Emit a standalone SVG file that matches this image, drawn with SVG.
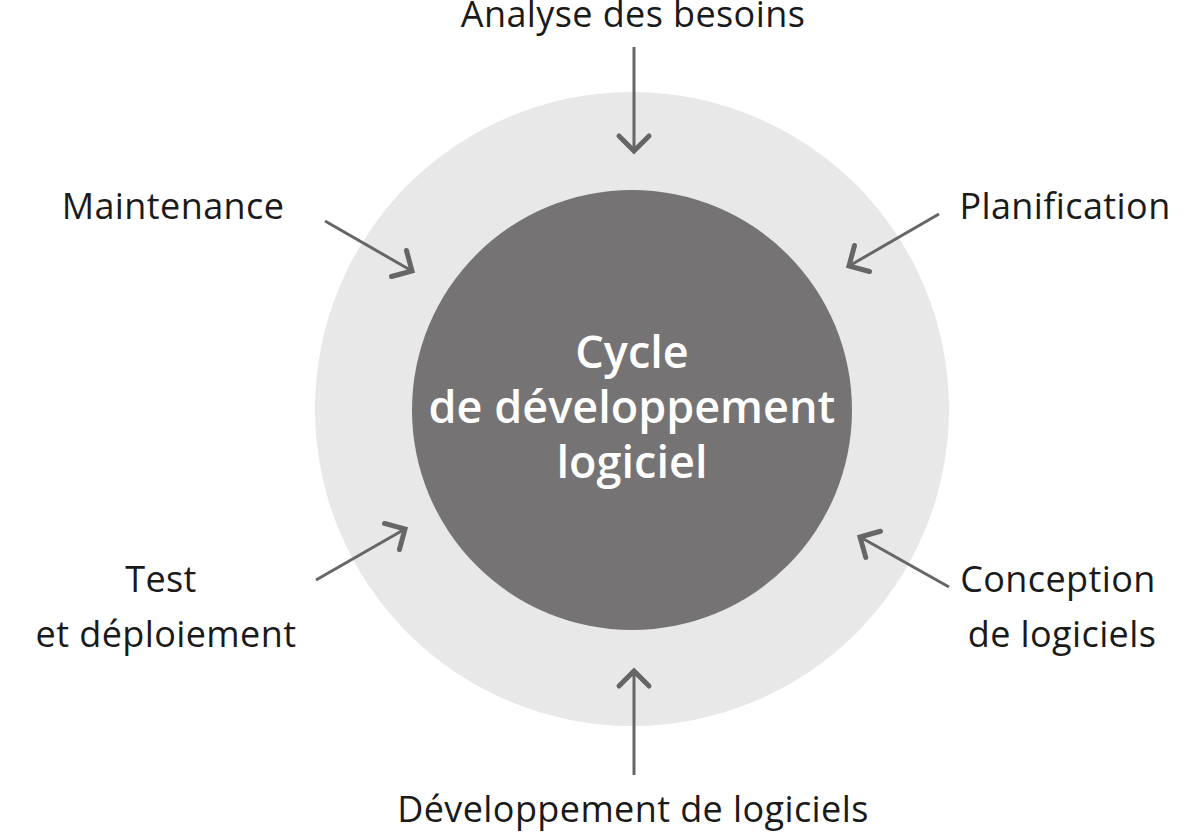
<svg xmlns="http://www.w3.org/2000/svg" width="1200" height="840" viewBox="0 0 1200 840">
<style>
.lbl{font-family:"Open Sans","Noto Sans","Liberation Sans",sans-serif;font-size:36px;letter-spacing:0.4px;fill:#1a1a1a}
.ctr{font-family:"Open Sans","Noto Sans","Liberation Sans",sans-serif;font-size:45px;font-weight:600;fill:#ffffff}
.conn line{stroke:#666666;stroke-width:3;fill:none;marker-end:url(#chev)}
</style>
<defs>
<marker id="chev" markerUnits="userSpaceOnUse" viewBox="-20 -20 24 40" markerWidth="24" markerHeight="40" refX="0" refY="0" orient="auto">
<path d="M-15,-15 L0,0 L-15,15" fill="none" stroke="#666666" stroke-width="5" stroke-linecap="round" stroke-linejoin="miter"/>
</marker>
</defs>
<rect width="1200" height="840" fill="#ffffff"/>
<g id="outer"><circle cx="632" cy="409" r="317" fill="#e8e8e8"/></g>
<g id="center">
<circle cx="632" cy="410" r="220" fill="#767374"/>
<text class="ctr" x="632" y="368" text-anchor="middle">Cycle</text>
<text class="ctr" x="632" y="423" text-anchor="middle">de développement</text>
<text class="ctr" x="632" y="478" text-anchor="middle">logiciel</text>
</g>
<g class="conn" id="connectors">
<line x1="634" y1="47" x2="634" y2="151"/>
<line x1="939" y1="214" x2="849" y2="266"/>
<line x1="949" y1="587" x2="860" y2="537"/>
<line x1="634" y1="775" x2="634" y2="671"/>
<line x1="316" y1="580" x2="405" y2="529"/>
<line x1="325" y1="221" x2="412" y2="271"/>
</g>
<g id="n-analyse"><text class="lbl" x="633" y="27" text-anchor="middle">Analyse des besoins</text></g>
<g id="n-planif"><text class="lbl" x="1065" y="219" text-anchor="middle">Planification</text></g>
<g id="n-conception"><text class="lbl" x="1058" y="592" text-anchor="middle">Conception</text><text class="lbl" x="1062" y="647" text-anchor="middle">de logiciels</text></g>
<g id="n-dev"><text class="lbl" x="633" y="822" text-anchor="middle">Développement de logiciels</text></g>
<g id="n-test"><text class="lbl" x="161" y="592" text-anchor="middle">Test</text><text class="lbl" x="166" y="647" text-anchor="middle">et déploiement</text></g>
<g id="n-maint"><text class="lbl" x="173" y="219" text-anchor="middle">Maintenance</text></g>
</svg>
